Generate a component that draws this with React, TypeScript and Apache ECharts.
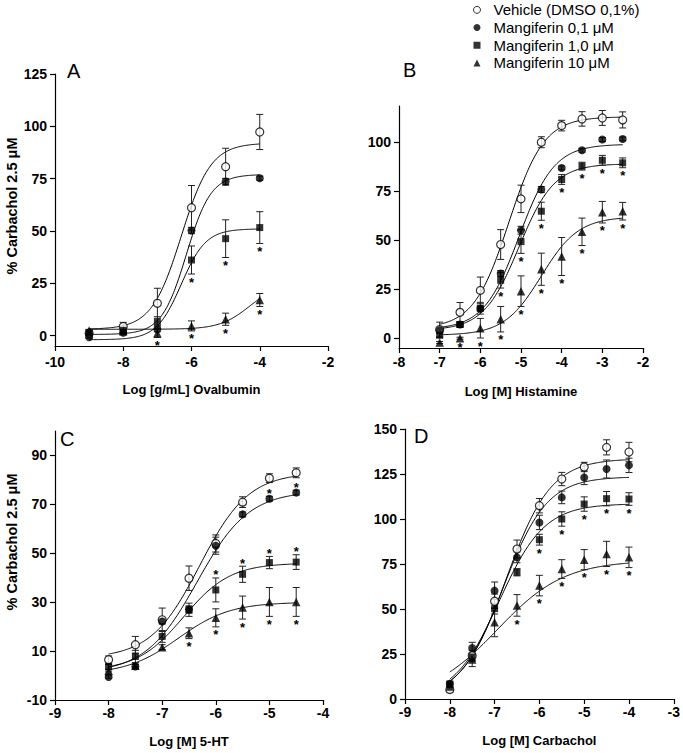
import React, { useEffect, useRef } from "react";
import * as echarts from "echarts";

const SERIES_NAMES = ["Vehicle (DMSO 0,1%)", "Mangiferin 0,1 μM", "Mangiferin 1,0 μM", "Mangiferin 10 μM"];
const PANEL_LETTERS = ["A", "B", "C", "D"];
const X_NAMES = ["Log [g/mL] Ovalbumin", "Log [M] Histamine", "Log [M] 5-HT", "Log [M] Carbachol"];
const Y_NAME = "% Carbachol 2.5 μM";

// ---------- Panel A : Ovalbumin ----------
const A_X = [-9, -8, -7, -6, -5, -4];
const A_VEH = [1.1, 4.3, 15.4, 61.1, 80.7, 97.3];
const A_VEH_ERR = [1.0, 2.0, 7.2, 10.6, 8.8, 8.4];
const A_M01 = [-0.8, 1.3, 3.0, 50.2, 73.6, 75.2];
const A_M01_ERR = [0.5, 0.8, 1.2, 1.5, 1.5, 1.0];
const A_M1 = [1.5, 2.5, 6.2, 36.1, 46.3, 51.6];
const A_M1_ERR = [0.6, 0.8, 2.8, 6.7, 9.0, 7.6];
const A_M10 = [2.4, 2.0, 1.1, 4.6, 7.8, 17.0];
const A_M10_ERR = [0.5, 0.6, 2.0, 2.4, 2.9, 3.1];
// significance marks: 1 = asterisk below, -1 = asterisk above, 0 = none
const A_SIG_M01 = [0, 0, 0, 0, 0, 0];
const A_SIG_M1 = [0, 0, 0, 1, 1, 1];
const A_SIG_M10 = [0, 0, 1, 1, 1, 1];
// fitted sigmoid parameters: [bottom, top, logEC50, hill slope]
const A_FIT_VEH = [3, 92, -6.3, 1.0];
const A_FIT_M01 = [0.5, 77, -6.15, 1.2];
const A_FIT_M1 = [-2, 51, -6.3, 1.2];
const A_FIT_M10 = [3, 25, -4.3, 1.0];
const A_YTICKS = [0, 25, 50, 75, 100, 125];

// ---------- Panel B : Histamine ----------
const B_X = [-7, -6.5, -6, -5.5, -5, -4.5, -4, -3.5, -3, -2.5];
const B_VEH = [4.4, 13.2, 24.4, 47.8, 71.1, 100, 108.5, 111.9, 112.4, 111.4];
const B_VEH_ERR = [3.8, 5.0, 6.8, 7.6, 7.0, 2.8, 2.7, 3.7, 3.8, 4.1];
const B_M01 = [4.0, 7.0, 15.0, 33.0, 55.1, 75.9, 86.9, 95.9, 101.4, 101.7];
const B_M01_ERR = [1.0, 1.0, 1.0, 1.5, 2.0, 1.5, 1.0, 1.0, 1.0, 1.0];
const B_M1 = [1.5, 7.0, 15.3, 29.6, 49.3, 64.8, 81.0, 87.8, 90.8, 89.5];
const B_M1_ERR = [1.0, 1.5, 3.0, 4.0, 6.0, 4.6, 2.5, 2.0, 2.5, 2.5];
const B_M10 = [-2.2, 0.0, 5.1, 9.7, 24.0, 35.2, 41.7, 54.3, 64.3, 64.8];
const B_M10_ERR = [0.5, 0.5, 5.0, 6.5, 7.8, 8.2, 9.7, 7.0, 5.5, 4.5];
const B_SIG_M01 = [0, 0, 0, 0, 0, 0, 0, 0, 0, 0];
const B_SIG_M1 = [0, 0, 0, 1, 1, 1, 1, 1, 1, 1];
const B_SIG_M10 = [0, 1, 1, 1, 1, 1, 1, 1, 1, 1];
const B_FIT_VEH = [5, 113, -5.3, 1.0];
const B_FIT_M01 = [4.5, 99, -5.05, 1.0];
const B_FIT_M1 = [4, 89, -5.05, 1.0];
const B_FIT_M10 = [1.5, 62, -4.5, 0.95];
const B_YTICKS = [0, 25, 50, 75, 100];

// ---------- Panel C : 5-HT ----------
const C_X = [-8, -7.5, -7, -6.5, -6, -5.5, -5, -4.5];
const C_VEH = [6.5, 12.6, 22.8, 39.8, 54.0, 70.9, 80.7, 82.9];
const C_VEH_ERR = [1.5, 3.4, 4.8, 5.0, 3.5, 2.2, 1.8, 2.0];
const C_M01 = [-0.6, 3.7, 22.1, 27.0, 53.1, 65.9, 72.3, 74.8];
const C_M01_ERR = [0.5, 1.0, 1.0, 1.5, 3.5, 1.0, 1.0, 1.0];
const C_M1 = [3.5, 7.8, 16.0, 26.9, 35.0, 41.4, 46.2, 46.4];
const C_M1_ERR = [1.0, 2.5, 2.4, 2.7, 4.9, 3.3, 2.5, 3.0];
const C_M10 = [2.0, 4.0, 11.6, 17.3, 23.6, 27.8, 30.1, 30.1];
const C_M10_ERR = [0.5, 0.5, 1.0, 2.2, 3.7, 4.7, 5.9, 5.9];
const C_SIG_M01 = [0, 0, 0, 0, 0, 0, -1, -1];
const C_SIG_M1 = [0, 0, 0, 0, -1, -1, -1, -1];
const C_SIG_M10 = [0, 0, 0, 1, 1, 1, 1, 1];
const C_FIT_VEH = [7, 83, -6.3, 0.95];
const C_FIT_M01 = [1, 75.5, -6.35, 0.9];
const C_FIT_M1 = [2, 46, -6.6, 1.0];
const C_FIT_M10 = [0.5, 30, -6.7, 0.9];
const C_YTICKS = [-10, 10, 30, 50, 70, 90];

// ---------- Panel D : Carbachol ----------
const D_X = [-8, -7.5, -7, -6.5, -6, -5.5, -5, -4.5, -4];
const D_VEH = [5.2, 24.0, 54.3, 83.3, 107.4, 122.2, 128.9, 139.8, 137.2];
const D_VEH_ERR = [1.5, 3.0, 4.0, 5.0, 4.0, 3.7, 2.6, 4.2, 5.4];
const D_M01 = [8.5, 28.3, 60.2, 78.7, 98.1, 112.0, 123.1, 127.8, 129.8];
const D_M01_ERR = [1.5, 3.2, 4.8, 3.0, 4.0, 3.5, 4.0, 5.0, 4.0];
const D_M1 = [8.0, 23.3, 50.2, 70.4, 88.5, 100.0, 108.3, 111.3, 111.1];
const D_M1_ERR = [1.0, 2.0, 3.0, 2.0, 3.0, 4.0, 4.0, 4.0, 3.5];
const D_M10 = [7.0, 22.0, 42.6, 52.0, 63.0, 72.2, 77.4, 80.6, 78.7];
const D_M10_ERR = [1.0, 4.0, 8.0, 6.0, 5.7, 5.2, 5.6, 7.0, 5.7];
const D_SIG_M01 = [0, 0, 0, 0, 0, 0, 0, 0, 0];
const D_SIG_M1 = [0, 0, 0, 0, 1, 1, 1, 1, 1];
const D_SIG_M10 = [0, 0, 0, 1, 1, 1, 1, 1, 1];
const D_FIT_VEH = [0, 133.5, -6.74, 0.87];
const D_FIT_M01 = [0, 123.5, -6.81, 0.89];
const D_FIT_M1 = [0, 108.5, -6.9, 0.86];
const D_FIT_M10 = [0, 77, -6.94, 0.58];
const D_YTICKS = [0, 25, 50, 75, 100, 125, 150];

const FONT = "Arial, 'Liberation Sans', Helvetica, sans-serif";

const PANELS = [
  {
    x: A_X, ys: [A_VEH, A_M01, A_M1, A_M10], errs: [A_VEH_ERR, A_M01_ERR, A_M1_ERR, A_M10_ERR],
    sig: [null, A_SIG_M01, A_SIG_M1, A_SIG_M10], fits: [A_FIT_VEH, A_FIT_M01, A_FIT_M1, A_FIT_M10],
    grid: { left: 55, top: 74, width: 273, height: 272 },
    xMin: -10, xMax: -2, xInt: 2, yMin: -5, yMax: 125, yTicks: A_YTICKS, labelMargin: 9, nameGap: 37,
  },
  {
    x: B_X, ys: [B_VEH, B_M01, B_M1, B_M10], errs: [B_VEH_ERR, B_M01_ERR, B_M1_ERR, B_M10_ERR],
    sig: [null, B_SIG_M01, B_SIG_M1, B_SIG_M10], fits: [B_FIT_VEH, B_FIT_M01, B_FIT_M1, B_FIT_M10],
    grid: { left: 399, top: 106, width: 244, height: 242 },
    xMin: -8, xMax: -2, xInt: 1, yMin: -5, yMax: 118.5, yTicks: B_YTICKS, labelMargin: 7, nameGap: 37,
  },
  {
    x: C_X, ys: [C_VEH, C_M01, C_M1, C_M10], errs: [C_VEH_ERR, C_M01_ERR, C_M1_ERR, C_M10_ERR],
    sig: [null, C_SIG_M01, C_SIG_M1, C_SIG_M10], fits: [C_FIT_VEH, C_FIT_M01, C_FIT_M1, C_FIT_M10],
    grid: { left: 55, top: 431, width: 268, height: 269 },
    xMin: -9, xMax: -4, xInt: 1, yMin: -10, yMax: 100, yTicks: C_YTICKS, labelMargin: 6, nameGap: 35,
  },
  {
    x: D_X, ys: [D_VEH, D_M01, D_M1, D_M10], errs: [D_VEH_ERR, D_M01_ERR, D_M1_ERR, D_M10_ERR],
    sig: [null, D_SIG_M01, D_SIG_M1, D_SIG_M10], fits: [D_FIT_VEH, D_FIT_M01, D_FIT_M1, D_FIT_M10],
    grid: { left: 405, top: 429, width: 269, height: 270 },
    xMin: -9, xMax: -3, xInt: 1, yMin: 0, yMax: 150, yTicks: D_YTICKS, labelMargin: 6, nameGap: 35,
  },
];

const SYMBOLS = ["circle", "circle", "rect", "triangle"];
const SIZES = [8, 8, 7, 8.5];
const FILLS = ["#ffffff", "#000000", "#000000", "#000000"];

function hillValue(p: number[], x: number) {
  return p[0] + (p[1] - p[0]) / (1 + Math.pow(10, (p[2] - x) * p[3]));
}

function fitCurve(p: number[], x0: number, x1: number) {
  const pts: number[][] = [];
  const n = 200;
  for (let i = 0; i <= n; i++) {
    const x = x0 + ((x1 - x0) * i) / n;
    pts.push([x, hillValue(p, x)]);
  }
  return pts;
}

function buildOption() {
  const grids: any[] = [];
  const xAxes: any[] = [];
  const yAxes: any[] = [];
  const series: any[] = [];
  const graphics: any[] = [];

  PANELS.forEach((pn, gi) => {
    grids.push({ ...pn.grid, containLabel: false });
    xAxes.push({
      type: "value",
      gridIndex: gi,
      min: pn.xMin,
      max: pn.xMax,
      interval: pn.xInt,
      name: X_NAMES[gi],
      nameLocation: "middle",
      nameGap: pn.nameGap,
      nameTextStyle: { fontFamily: FONT, fontWeight: "bold", fontSize: 13, color: "#000" },
      axisLine: { show: true, onZero: false, lineStyle: { color: "#000", width: 1.2 } },
      axisTick: { show: true, length: 5, lineStyle: { color: "#000", width: 1.2 } },
      axisLabel: { margin: pn.labelMargin, fontFamily: FONT, fontWeight: "bold", fontSize: 14, color: "#000" },
      splitLine: { show: false },
    });
    yAxes.push({
      type: "value",
      gridIndex: gi,
      min: pn.yMin,
      max: pn.yMax,
      axisLine: { show: true, onZero: false, lineStyle: { color: "#000", width: 1.2 } },
      axisTick: { show: true, length: 5, customValues: pn.yTicks, lineStyle: { color: "#000", width: 1.2 } },
      axisLabel: { margin: 8, customValues: pn.yTicks, fontFamily: FONT, fontWeight: "bold", fontSize: 14, color: "#000" },
      splitLine: { show: false },
    });

    const x0 = pn.x[0];
    const x1 = pn.x[pn.x.length - 1];

    // fitted curves
    pn.fits.forEach((f) => {
      series.push({
        type: "line",
        xAxisIndex: gi,
        yAxisIndex: gi,
        data: fitCurve(f, x0, x1),
        showSymbol: false,
        symbol: "none",
        silent: true,
        lineStyle: { color: "#000", width: 1 },
        z: 2,
      });
    });

    // error bars
    pn.ys.forEach((ys, si) => {
      series.push({
        type: "custom",
        xAxisIndex: gi,
        yAxisIndex: gi,
        silent: true,
        z: 3,
        data: pn.x.map((xv, i) => [xv, ys[i], pn.errs[si][i]]),
        encode: { x: 0, y: 1 },
        renderItem: (params: any, api: any) => {
          const xv = api.value(0);
          const yv = api.value(1);
          const e = api.value(2);
          const top = api.coord([xv, yv + e]);
          const bot = api.coord([xv, yv - e]);
          const w = 3.5;
          const st = { stroke: "#222", lineWidth: 1 };
          return {
            type: "group",
            children: [
              { type: "line", shape: { x1: top[0], y1: top[1], x2: bot[0], y2: bot[1] }, style: st },
              { type: "line", shape: { x1: top[0] - w, y1: top[1], x2: top[0] + w, y2: top[1] }, style: st },
              { type: "line", shape: { x1: bot[0] - w, y1: bot[1], x2: bot[0] + w, y2: bot[1] }, style: st },
            ],
          };
        },
      });
    });

    // markers
    pn.ys.forEach((ys, si) => {
      series.push({
        type: "scatter",
        name: SERIES_NAMES[si],
        xAxisIndex: gi,
        yAxisIndex: gi,
        data: pn.x.map((xv, i) => [xv, ys[i]]),
        symbol: SYMBOLS[si],
        symbolSize: SIZES[si],
        itemStyle: { color: FILLS[si], borderColor: "#000", borderWidth: si === 0 ? 1.2 : 0 },
        z: 4 + si,
      });
    });

    // significance asterisks
    pn.sig.forEach((sg, si) => {
      if (!sg) return;
      const data: number[][] = [];
      pn.x.forEach((xv, i) => {
        if (sg[i] !== 0) data.push([xv, pn.ys[si][i], pn.errs[si][i], sg[i]]);
      });
      if (!data.length) return;
      series.push({
        type: "custom",
        xAxisIndex: gi,
        yAxisIndex: gi,
        silent: true,
        z: 10,
        data,
        encode: { x: 0, y: 1 },
        renderItem: (params: any, api: any) => {
          const xv = api.value(0);
          const yv = api.value(1);
          const e = api.value(2);
          const dir = api.value(3);
          const p = api.coord([xv, dir > 0 ? yv - e : yv + e]);
          return {
            type: "text",
            x: p[0],
            y: dir > 0 ? p[1] + 8 : p[1] - 3,
            style: {
              text: "*",
              fontFamily: FONT,
              fontWeight: "bold",
              fontSize: 13,
              fill: "#000",
              align: "center",
              verticalAlign: "middle",
            },
          };
        },
      });
    });
  });

  // panel letters
  const letterPos = [
    [67, 71],
    [403, 70],
    [60, 439],
    [414, 436],
  ];
  PANEL_LETTERS.forEach((L, i) => {
    graphics.push({
      type: "text",
      x: letterPos[i][0],
      y: letterPos[i][1],
      style: { text: L, fontFamily: FONT, fontSize: 20, fill: "#000", align: "left", verticalAlign: "middle" },
    });
  });
  // y axis titles (panels A and C)
  [
    [12, 206],
    [12, 542],
  ].forEach(([cx, cy]) => {
    graphics.push({
      type: "text",
      x: cx,
      y: cy,
      rotation: Math.PI / 2,
      style: {
        text: Y_NAME,
        fontFamily: FONT,
        fontWeight: "bold",
        fontSize: 14.5,
        fill: "#000",
        align: "center",
        verticalAlign: "middle",
      },
    });
  });

  return {
    animation: false,
    backgroundColor: "#ffffff",
    grid: grids,
    xAxis: xAxes,
    yAxis: yAxes,
    series,
    graphic: graphics,
    legend: {
      orient: "vertical",
      left: 473,
      top: 1,
      padding: 0,
      itemWidth: 7,
      itemHeight: 7,
      itemGap: 0,
      selectedMode: false,
      textStyle: { fontFamily: FONT, fontSize: 15, color: "#000", lineHeight: 17.7, padding: [0, 0, 0, 8] },
      data: [
        { name: SERIES_NAMES[0], icon: "circle", itemStyle: { color: "#fff", borderColor: "#000", borderWidth: 1 } },
        { name: SERIES_NAMES[1], icon: "circle" },
        { name: SERIES_NAMES[2], icon: "rect" },
        { name: SERIES_NAMES[3], icon: "triangle" },
      ],
    },
  };
}

export default function App() {
  const ref = useRef<HTMLDivElement | null>(null);
  useEffect(() => {
    document.body.style.margin = "0";
    if (!ref.current) return;
    const chart = echarts.init(ref.current, undefined, { renderer: "svg" });
    chart.setOption(buildOption() as any);
    return () => chart.dispose();
  }, []);
  return <div ref={ref} style={{ width: 683, height: 753, background: "#fff" }} />;
}
